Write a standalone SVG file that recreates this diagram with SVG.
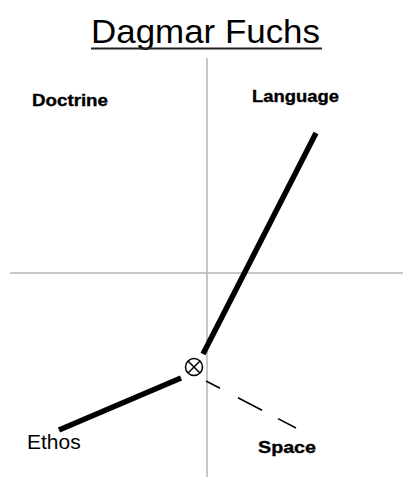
<svg xmlns="http://www.w3.org/2000/svg" width="403" height="477" viewBox="0 0 403 477">
<style>
.axis{stroke:#b4b4b4;stroke-width:1.5;fill:none}
.thick{stroke:#000;stroke-width:5.5;fill:none}
.lbl{font-family:"Liberation Sans",Arial,sans-serif;fill:#000}
.b{font-family:"Liberation Sans",Arial,sans-serif;font-weight:bold;font-size:17px;fill:#000;stroke:#000;stroke-width:0.35}
</style>
<rect width="403" height="477" fill="#fff"/>
<g id="axes">
<line class="axis" x1="207" y1="58" x2="207" y2="477"/>
<line class="axis" x1="10" y1="273" x2="403" y2="273"/>
</g>
<g id="title">
<text class="lbl" x="91" y="43" font-size="33.5" textLength="229" lengthAdjust="spacingAndGlyphs">Dagmar Fuchs</text>
<line x1="91" y1="48.5" x2="322" y2="48.5" stroke="#222" stroke-width="2.2"/>
</g>
<g id="connectors">
<line class="thick" x1="316" y1="133" x2="203" y2="354"/>
<line class="thick" x1="181" y1="378" x2="59" y2="430"/>
<line x1="206" y1="381" x2="296" y2="428" stroke="#000" stroke-width="1.6" stroke-dasharray="15.8 20.3 27.1 18 20.5 20"/>
</g>
<g id="origin">
<circle cx="194" cy="367" r="8.5" fill="#fff" stroke="#000" stroke-width="1.5"/>
<line x1="188" y1="361" x2="200" y2="373" stroke="#000" stroke-width="1.5"/>
<line x1="200" y1="361" x2="188" y2="373" stroke="#000" stroke-width="1.5"/>
</g>
<g id="doctrine"><text class="b" x="32" y="106" textLength="76" lengthAdjust="spacingAndGlyphs">Doctrine</text></g>
<g id="language"><text class="b" x="252" y="102" textLength="87" lengthAdjust="spacingAndGlyphs">Language</text></g>
<g id="ethos"><text class="lbl" x="27" y="449" font-size="21">Ethos</text></g>
<g id="space"><text class="b" x="258" y="453" textLength="58" lengthAdjust="spacingAndGlyphs">Space</text></g>
</svg>
